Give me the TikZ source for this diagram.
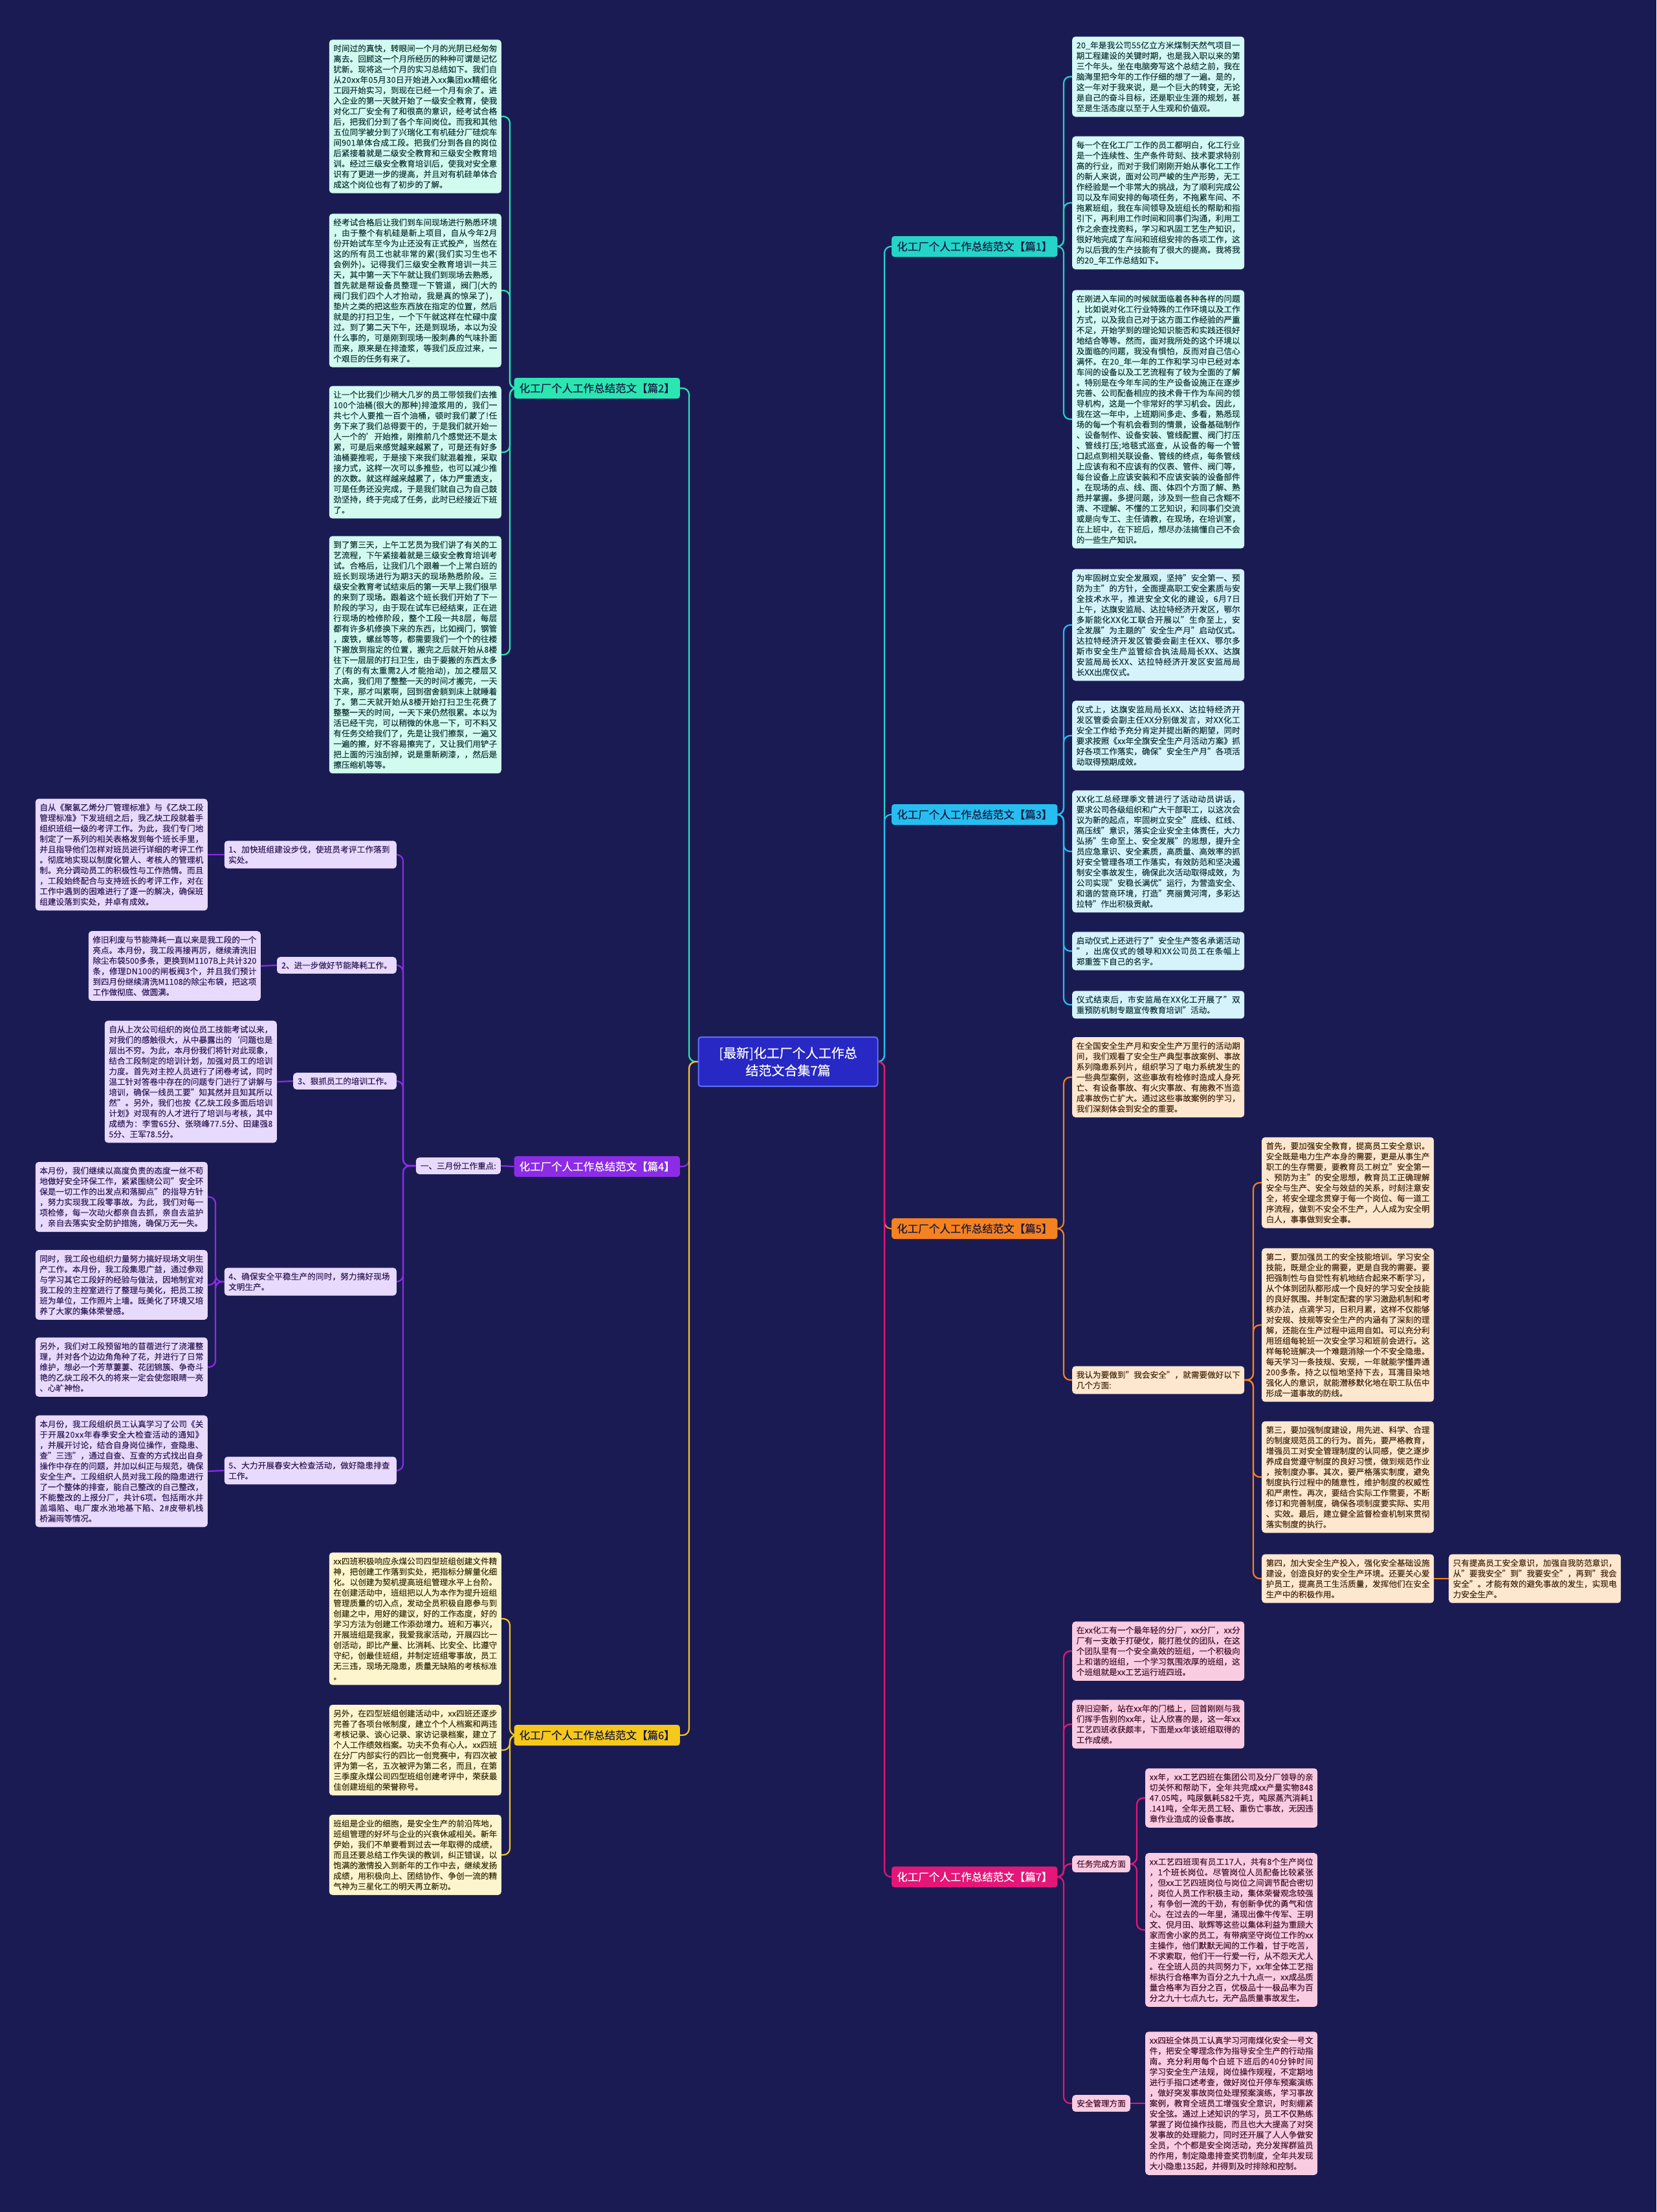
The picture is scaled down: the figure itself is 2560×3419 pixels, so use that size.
\documentclass[tikz,border=0pt]{standalone}
\usepackage{fontspec}
\setmainfont{Noto Sans CJK SC}[FakeBold=0.35]
\setlength{\parindent}{0pt}
\tolerance=9999
\emergencystretch=30pt
% character-wise line breaking (break anywhere, as in the reference)
\newXeTeXintercharclass\brkclass
\newcount\mycnt
\mycnt="3000
\loop \XeTeXcharclass\mycnt=\brkclass \advance\mycnt by 1 \ifnum\mycnt<"A000 \repeat
\mycnt="FF00
\loop \XeTeXcharclass\mycnt=\brkclass \advance\mycnt by 1 \ifnum\mycnt<"FFF0 \repeat
\mycnt=33
\loop \XeTeXcharclass\mycnt=\brkclass \advance\mycnt by 1 \ifnum\mycnt<127 \repeat
\XeTeXinterchartoks\brkclass\brkclass={\hskip 0pt plus 1pt\relax}
\XeTeXinterchartokenstate=1
\definecolor{bgc}{RGB}{27,27,84}
\definecolor{cc}{RGB}{40,40,196}
\definecolor{ccb}{RGB}{95,110,255}
\definecolor{c1}{RGB}{36,212,200}
\definecolor{c2}{RGB}{44,230,178}
\definecolor{c3}{RGB}{38,190,240}
\definecolor{c4}{RGB}{140,44,230}
\definecolor{c5}{RGB}{245,130,32}
\definecolor{c6}{RGB}{245,200,28}
\definecolor{c7}{RGB}{228,22,120}
\definecolor{f1}{RGB}{212,250,245}
\definecolor{f2}{RGB}{210,251,240}
\definecolor{f3}{RGB}{214,243,252}
\definecolor{f4}{RGB}{232,218,252}
\definecolor{f5}{RGB}{253,231,207}
\definecolor{f6}{RGB}{252,245,206}
\definecolor{f7}{RGB}{249,204,226}
\definecolor{t1}{RGB}{24,58,60}
\definecolor{t4}{RGB}{52,30,90}
\definecolor{t5}{RGB}{74,44,18}
\definecolor{t6}{RGB}{62,52,18}
\definecolor{t7}{RGB}{74,22,50}
\definecolor{tb}{RGB}{22,24,64}
\tikzset{
  every node/.style={font=\fontsize{12.6}{16.2}\selectfont},
  leafbox/.style={rectangle, rounded corners=5pt, text width=253pt, inner xsep=6.5pt, inner ysep=7.5pt, align=justify},
  labbox/.style={rectangle, rounded corners=5pt, inner xsep=7pt, inner ysep=7pt},
  brbox/.style={rectangle, rounded corners=4pt, inner xsep=8pt, minimum height=32pt, font=\fontsize{16.5}{20}\selectfont},
  lf1/.style={leafbox, fill=f1, text=t1},
  lf2/.style={leafbox, fill=f2, text=t1},
  lf3/.style={leafbox, fill=f3, text=t1},
  lf4/.style={leafbox, fill=f4, text=t4},
  lf5/.style={leafbox, fill=f5, text=t5},
  lf6/.style={leafbox, fill=f6, text=t6},
  lf7/.style={leafbox, fill=f7, text=t7},
  conn/.style={line width=2.2pt, rounded corners=10pt},
}
\begin{document}
\begin{tikzpicture}[x=1pt,y=-1pt]
\useasboundingbox (0,0) rectangle (2560,3419);
\fill[bgc] (0,0) rectangle (2560,3419);

% trunk coordinates
\coordinate (TCR) at (1367,0);
\coordinate (TCL) at (1065,0);
\coordinate (TR) at (1644,0);
\coordinate (TL) at (788,0);
\coordinate (T4) at (623,0);
\coordinate (T44) at (333,0);
\coordinate (T5) at (1937,0);
\coordinate (T7) at (1757,0);

% centre
\node[rectangle, rounded corners=4pt, fill=cc, draw=ccb, line width=2pt, text=white, minimum width=277pt, minimum height=76pt, align=center, font=\fontsize{20}{27}\selectfont] (c) at (1218,1641) {[最新]化工厂个人工作总\\结范文合集7篇};

% branches
\node[brbox, fill=c1, text=tb, anchor=west] (b1) at (1378,381) {化工厂个人工作总结范文【篇1】};
\node[brbox, fill=c3, text=tb, anchor=west] (b3) at (1378,1259) {化工厂个人工作总结范文【篇3】};
\node[brbox, fill=c5, text=tb, anchor=west] (b5) at (1378,1899) {化工厂个人工作总结范文【篇5】};
\node[brbox, fill=c7, text=white, anchor=west] (b7) at (1378,2901) {化工厂个人工作总结范文【篇7】};
\node[brbox, fill=c2, text=tb, anchor=east] (b2) at (1051,600) {化工厂个人工作总结范文【篇2】};
\node[brbox, fill=c4, text=white, anchor=east] (b4) at (1051,1803) {化工厂个人工作总结范文【篇4】};
\node[brbox, fill=c6, text=tb, anchor=east] (b6) at (1051,2682) {化工厂个人工作总结范文【篇6】};

% ---- 篇1 leaves
\node[lf1, anchor=west] (L1) at (1657,118.5) {20\_年是我公司55亿立方米煤制天然气项目一期工程建设的关键时期，也是我入职以来的第三个年头。坐在电脑旁写这个总结之前，我在脑海里把今年的工作仔细的想了一遍。是的，这一年对于我来说，是一个巨大的转变，无论是自己的奋斗目标，还是职业生涯的规划，甚至是生活态度以至于人生观和价值观。};
\node[lf1, anchor=west] (L2) at (1657,313.5) {每一个在化工厂工作的员工都明白，化工行业是一个连续性、生产条件苛刻、技术要求特别高的行业，而对于我们刚刚开始从事化工工作的新人来说，面对公司严峻的生产形势，无工作经验是一个非常大的挑战，为了顺利完成公司以及车间安排的每项任务，不拖累车间、不拖累班组，我在车间领导及班组长的帮助和指引下，再利用工作时间和同事们沟通，利用工作之余查找资料，学习和巩固工艺生产知识，很好地完成了车间和班组安排的各项工作，这为以后我的生产技能有了很大的提高。我将我的20\_年工作总结如下。};
\node[lf1, anchor=west] (L3) at (1657,648) {在刚进入车间的时候就面临着各种各样的问题，比如说对化工行业特殊的工作环境以及工作方式，以及我自己对于这方面工作经验的严重不足，开始学到的理论知识能否和实践还很好地结合等等。然而，面对我所处的这个环境以及面临的问题，我没有惧怕，反而对自己信心满怀。在20\_年一年的工作和学习中已经对本车间的设备以及工艺流程有了较为全面的了解。特别是在今年车间的生产设备设施正在逐步完善、公司配备相应的技术骨干作为车间的领导机构，这是一个非常好的学习机会。因此，我在这一年中，上班期间多走、多看，熟悉现场的每一个有机会看到的情景，设备基础制作、设备制作、设备安装、管线配置、阀门打压、管线打压;地毯式巡查，从设备的每一个管口起点到相关联设备、管线的终点，每条管线上应该有和不应该有的仪表、管件、阀门等，每台设备上应该安装和不应该安装的设备部件。在现场的点、线、面、体四个方面了解、熟悉并掌握。多提问题，涉及到一些自己含糊不清、不理解、不懂的工艺知识，和同事们交流或是向专工、主任请教，在现场，在培训室，在上班中，在下班后，想尽办法搞懂自己不会的一些生产知识。};

% ---- 篇3 leaves
\node[lf3, anchor=west] (L4) at (1657,966) {为牢固树立安全发展观，坚持"安全第一、预防为主"的方针，全面提高职工安全素质与安全技术水平，推进安全文化的建设，6月7日上午，达旗安监局、达拉特经济开发区，鄂尔多斯能化XX化工联合开展以"生命至上，安全发展"为主题的"安全生产月"启动仪式。达拉特经济开发区管委会副主任XX、鄂尔多斯市安全生产监管综合执法局局长XX、达旗安监局局长XX、达拉特经济开发区安监局局长XX出席仪式。};
\node[lf3, anchor=west] (L5) at (1657,1137) {仪式上，达旗安监局局长XX、达拉特经济开发区管委会副主任XX分别做发言，对XX化工安全工作给予充分肯定并提出新的期望，同时要求按照《xx年全旗安全生产月活动方案》抓好各项工作落实，确保"安全生产月"各项活动取得预期成效。};
\node[lf3, anchor=west] (L6) at (1657,1316) {XX化工总经理季文普进行了活动动员讲话，要求公司各级组织和广大干部职工，以这次会议为新的起点，牢固树立安全"底线、红线、高压线"意识，落实企业安全主体责任，大力弘扬"生命至上、安全发展"的思想，提升全员应急意识、安全素质，高质量、高效率的抓好安全管理各项工作落实，有效防范和坚决遏制安全事故发生，确保此次活动取得成效，为公司实现"安稳长满优"运行，为营造安全、和谐的营商环境，打造"亮丽黄河湾，多彩达拉特"作出积极贡献。};
\node[lf3, anchor=west] (L7) at (1657,1470) {启动仪式上还进行了"安全生产签名承诺活动"，出席仪式的领导和XX公司员工在条幅上郑重签下自己的名字。};
\node[lf3, anchor=west] (L8) at (1657,1553) {仪式结束后，市安监局在XX化工开展了"双重预防机制专题宣传教育培训"活动。};

% ---- 篇5
\node[lf5, anchor=west] (P1) at (1657,1665) {在全国安全生产月和安全生产万里行的活动期间，我们观看了安全生产典型事故案例、事故系列隐患系列片，组织学习了电力系统发生的一些典型案例，这些事故有检修时造成人身死亡、有设备事故、有火灾事故、有施救不当造成事故伤亡扩大。通过这些事故案例的学习，我们深刻体会到安全的重要。};
\node[lf5, anchor=west] (P2) at (1657,2133) {我认为要做到"我会安全"，就需要做好以下几个方面:};
\node[lf5, anchor=west] (C1) at (1950,1828) {首先，要加强安全教育，提高员工安全意识。安全既是电力生产本身的需要，更是从事生产职工的生存需要，要教育员工树立"安全第一、预防为主"的安全思想，教育员工正确理解安全与生产、安全与效益的关系，时刻注意安全，将安全理念贯穿于每一个岗位、每一道工序流程，做到不安全不生产，人人成为安全明白人，事事做到安全事。};
\node[lf5, anchor=west] (C2) at (1950,2048) {第二，要加强员工的安全技能培训。学习安全技能，既是企业的需要，更是自我的需要。要把强制性与自觉性有机地结合起来不断学习，从个体到团队都形成一个良好的学习安全技能的良好氛围。并制定配套的学习激励机制和考核办法，点滴学习，日积月累，这样不仅能够对安规、技规等安全生产的内涵有了深刻的理解，还能在生产过程中运用自如。可以充分利用班组每轮班一次安全学习和班前会进行。这样每轮班解决一个难题消除一个不安全隐患。每天学习一条技规、安规，一年就能学懂弄通200多条。持之以恒地坚持下去，耳濡目染地强化人的意识，就能潜移默化地在职工队伍中形成一道事故的防线。};
\node[lf5, anchor=west] (C3) at (1950,2283) {第三，要加强制度建设，用先进、科学、合理的制度规范员工的行为。首先，要严格教育，增强员工对安全管理制度的认同感，使之逐步养成自觉遵守制度的良好习惯，做到规范作业，按制度办事。其次，要严格落实制度，避免制度执行过程中的随意性，维护制度的权威性和严肃性。再次，要结合实际工作需要，不断修订和完善制度，确保各项制度要实际、实用、实效。最后，建立健全监督检查机制来贯彻落实制度的执行。};
\node[lf5, anchor=west] (C4) at (1950,2440) {第四，加大安全生产投入，强化安全基础设施建设，创造良好的安全生产环境。还要关心爱护员工，提高员工生活质量，发挥他们在安全生产中的积极作用。};
\node[lf5, anchor=west] (C5) at (2239,2440) {只有提高员工安全意识，加强自我防范意识，从"要我安全"到"我要安全"，再到"我会安全"。才能有效的避免事故的发生，实现电力安全生产。};

% ---- 篇7
\node[lf7, anchor=west] (Q1) at (1657,2552) {在xx化工有一个最年轻的分厂，xx分厂，xx分厂有一支敢于打硬仗，能打胜仗的团队，在这个团队里有一个安全高效的班组，一个积极向上和谐的班组，一个学习氛围浓厚的班组，这个班组就是xx工艺运行班四班。};
\node[lf7, anchor=west] (Q2) at (1657,2665) {辞旧迎新，站在xx年的门槛上，回首刚刚与我们挥手告别的xx年，让人欣喜的是，这一年xx工艺四班收获颇丰，下面是xx年该班组取得的工作成绩。};
\node[labbox, fill=f7, text=t7, anchor=west] (S1) at (1657,2881) {任务完成方面};
\node[labbox, fill=f7, text=t7, anchor=west] (S2) at (1657,3251) {安全管理方面};
\node[lf7, anchor=west] (R1) at (1770,2779) {xx年，xx工艺四班在集团公司及分厂领导的亲切关怀和帮助下，全年共完成xx产量实物84847.05吨，吨尿氨耗582千克，吨尿蒸汽消耗1.141吨，全年无员工轻、重伤亡事故，无因违章作业造成的设备事故。};
\node[lf7, anchor=west] (R2) at (1770,2983) {xx工艺四班现有员工17人，共有8个生产岗位，1个班长岗位。尽管岗位人员配备比较紧张，但xx工艺四班岗位与岗位之间调节配合密切，岗位人员工作积极主动，集体荣誉观念较强，有争创一流的干劲，有创新争优的勇气和信心。在过去的一年里，涌现出像牛传军、王明文、倪月田、耿辉等这些以集体利益为重顾大家而舍小家的员工，有带病坚守岗位工作的xx主操作，他们默默无闻的工作着，甘于吃苦，不求索取，他们干一行爱一行，从不怨天尤人。在全班人员的共同努力下，xx年全体工艺指标执行合格率为百分之九十九点一，xx成品质量合格率为百分之百，优极品十一极品率为百分之九十七点九七，无产品质量事故发生。};
\node[lf7, anchor=west] (R3) at (1770,3251) {xx四班全体员工认真学习河南煤化安全一号文件，把安全零理念作为指导安全生产的行动指南。充分利用每个白班下班后的40分钟时间学习安全生产法规，岗位操作规程，不定期地进行手指口述考查，做好岗位开停车预案演练，做好突发事故岗位处理预案演练，学习事故案例，教育全班员工增强安全意识，时刻绷紧安全弦。通过上述知识的学习，员工不仅熟练掌握了岗位操作技能，而且也大大提高了对突发事故的处理能力，同时还开展了人人争做安全员，个个都是安全岗活动，充分发挥群监员的作用，制定隐患排查奖罚制度，全年共发现大小隐患135起，并得到及时排除和控制。};

% ---- 篇2 leaves
\node[lf2, anchor=east] (B1) at (775,180) {时间过的真快，转眼间一个月的光阴已经匆匆离去。回顾这一个月所经历的种种可谓是记忆犹新。现将这一个月的实习总结如下。我们自从20xx年05月30日开始进入xx集团xx精细化工园开始实习，到现在已经一个月有余了。进入企业的第一天就开始了一级安全教育，使我对化工厂安全有了和很高的意识，经考试合格后，把我们分到了各个车间岗位。而我和其他五位同学被分到了兴瑞化工有机硅分厂硅烷车间901单体合成工段。把我们分到各自的岗位后紧接着就是二级安全教育和三级安全教育培训。经过三级安全教育培训后，使我对安全意识有了更进一步的提高，并且对有机硅单体合成这个岗位也有了初步的了解。};
\node[lf2, anchor=east] (B2) at (775,449) {经考试合格后让我们到车间现场进行熟悉环境，由于整个有机硅是新上项目，自从今年2月份开始试车至今为止还没有正式投产，当然在这的所有员工也就非常的累(我们实习生也不会例外)。记得我们三级安全教育培训一共三天，其中第一天下午就让我们到现场去熟悉，首先就是帮设备员整理一下管道，阀门(大的阀门我们四个人才抬动，我是真的惊呆了)，垫片之类的把这些东西放在指定的位置，然后就是的打扫卫生，一个下午就这样在忙碌中度过。到了第二天下午，还是到现场，本以为没什么事的，可是刚到现场一股刺鼻的气味扑面而来，原来是在排渣浆，等我们反应过来，一个艰巨的任务有来了。};
\node[lf2, anchor=east] (B3) at (775,699) {让一个比我们少稍大几岁的员工带领我们去推100个油桶(很大的那种)排渣浆用的，我们一共七个人要推一百个油桶，顿时我们蒙了!任务下来了我们总得要干的，于是我们就开始一人一个的'开始推，刚推前几个感觉还不是太累，可是后来感觉越来越累了，可是还有好多油桶要推呢，于是接下来我们就混着推，采取接力式，这样一次可以多推些，也可以减少推的次数。就这样越来越累了，体力严重透支，可是任务还没完成，于是我们就自己为自己鼓劲坚持，终于完成了任务，此时已经接近下班了。};
\node[lf2, anchor=east] (B4) at (775,1012) {到了第三天，上午工艺员为我们讲了有关的工艺流程，下午紧接着就是三级安全教育培训考试。合格后，让我们几个跟着一个上常白班的班长到现场进行为期3天的现场熟悉阶段。三级安全教育考试结束后的第一天早上我们很早的来到了现场。跟着这个班长我们开始了下一阶段的学习，由于现在试车已经结束，正在进行现场的检修阶段，整个工段一共8层，每层都有许多机修换下来的东西，比如阀门，钢管，废铁，螺丝等等，都需要我们一个个的往楼下搬放到指定的位置，搬完之后就开始从8楼往下一层层的打扫卫生，由于要搬的东西太多了(有的有太重需2人才能抬动)，加之楼层又太高，我们用了整整一天的时间才搬完，一天下来，那才叫累啊，回到宿舍躺到床上就睡着了。第二天就开始从8楼开始打扫卫生花费了整整一天的时间，一天下来仍然很累。本以为活已经干完，可以稍微的休息一下，可不料又有任务交给我们了，先是让我们擦泵，一遍又一遍的擦，好不容易擦完了，又让我们用铲子把上面的污浊刮掉，说是重新刷漆，，然后是擦压缩机等等。};

% ---- 篇4
\node[labbox, fill=f4, text=t4, anchor=east] (H) at (774,1802) {一、三月份工作重点:};
\node[lf4, anchor=east, align=left] (I1) at (613,1321) {1、加快班组建设步伐，使班员考评工作落到实处。};
\node[labbox, fill=f4, text=t4, anchor=east] (I2) at (613,1492) {2、进一步做好节能降耗工作。};
\node[labbox, fill=f4, text=t4, anchor=east] (I3) at (613,1671) {3、狠抓员工的培训工作。};
\node[lf4, anchor=east, align=left] (I4) at (613,1981) {4、确保安全平稳生产的同时，努力搞好现场文明生产。};
\node[lf4, anchor=east, align=left] (I5) at (613,2273) {5、大力开展春安大检查活动，做好隐患排查工作。};
\node[lf4, anchor=east] (E1) at (321,1321) {自从《聚氯乙烯分厂管理标准》与《乙炔工段管理标准》下发班组之后，我乙炔工段就着手组织班组一级的考评工作。为此，我们专门地制定了一系列的相关表格发到每个班长手里，并且指导他们怎样对班员进行详细的考评工作。彻底地实现以制度化管人、考核人的管理机制。充分调动员工的积极性与工作热情。而且，工段始终配合与支持班长的考评工作，对在工作中遇到的困难进行了逐一的解决，确保班组建设落到实处，并卓有成效。};
\node[lf4, anchor=east] (E2) at (403,1493) {修旧利废与节能降耗一直以来是我工段的一个亮点。本月份，我工段再接再厉，继续清洗旧除尘布袋500多条，更换到M1107B上共计320条，修理DN100的闸板阀3个，并且我们预计到四月份继续清洗M1108的除尘布袋，把这项工作做彻底、做圆满。};
\node[lf4, anchor=east] (E3) at (428,1672) {自从上次公司组织的岗位员工技能考试以来，对我们的感触很大，从中暴露出的`问题也是层出不穷。为此，本月份我们将针对此现象，结合工段制定的培训计划，加强对员工的培训力度。首先对主控人员进行了闭卷考试，同时温工针对答卷中存在的问题专门进行了讲解与培训，确保一线员工要"知其然并且知其所以然"。另外，我们也按《乙炔工段多面后培训计划》对现有的人才进行了培训与考核，其中成绩为：李雪65分、张晓峰77.5分、田建强85分、王军78.5分。};
\node[lf4, anchor=east] (E4a) at (321,1850) {本月份，我们继续以高度负责的态度一丝不苟地做好安全环保工作，紧紧围绕公司"安全环保是一切工作的出发点和落脚点"的指导方针，努力实现我工段零事故。为此，我们对每一项检修，每一次动火都亲自去抓，亲自去监护，亲自去落实安全防护措施，确保万无一失。};
\node[lf4, anchor=east] (E4b) at (321,1986) {同时，我工段也组织力量努力搞好现场文明生产工作。本月份，我工段集思广益，通过参观与学习其它工段好的经验与做法，因地制宜对我工段的主控室进行了整理与美化，把员工按班为单位，工作照片上墙。既美化了环境又培养了大家的集体荣誉感。};
\node[lf4, anchor=east] (E4c) at (321,2113) {另外，我们对工段预留地的苜蓿进行了浇灌整理，并对各个边边角角种了花，并进行了日常维护，想必一个芳草萋萋、花团锦簇、争奇斗艳的乙炔工段不久的将来一定会使您眼睛一亮、心旷神怡。};
\node[lf4, anchor=east] (E5) at (321,2274) {本月份，我工段组织员工认真学习了公司《关于开展20xx年春季安全大检查活动的通知》，并展开讨论，结合自身岗位操作，查隐患、查"三违"，通过自查、互查的方式找出自身操作中存在的问题，并加以纠正与规范，确保安全生产。工段组织人员对我工段的隐患进行了一个整体的排查，能自己整改的自己整改，不能整改的上报分厂，共计6项。包括雨水井盖塌陷、电厂废水池地基下陷、2\#皮带机栈桥漏雨等情况。};

% ---- 篇6 leaves
\node[lf6, anchor=east] (D1) at (775,2502) {xx四班积极响应永煤公司四型班组创建文件精神，把创建工作落到实处，把指标分解量化细化。以创建为契机提高班组管理水平上台阶。在创建活动中，班组把以人为本作为提升班组管理质量的切入点，发动全员积极自愿参与到创建之中，用好的建议，好的工作态度，好的学习方法为创建工作添劲增力。班和万事兴，开展班组是我家，我爱我家活动，开展四比一创活动，即比产量、比消耗、比安全、比遵守守纪，创最佳班组，并制定班组零事故，员工无三违，现场无隐患，质量无缺陷的考核标准。};
\node[lf6, anchor=east] (D2) at (775,2705) {另外，在四型班组创建活动中，xx四班还逐步完善了各项台帐制度，建立个个人档案和两违考核记录、谈心记录、家访记录档案，建立了个人工作绩效档案。功夫不负有心人。xx四班在分厂内部实行的四比一创竞赛中，有四次被评为第一名，五次被评为第二名，而且，在第三季度永煤公司四型班组创建考评中，荣获最佳创建班组的荣誉称号。};
\node[lf6, anchor=east] (D3) at (775,2867) {班组是企业的细胞，是安全生产的前沿阵地，班组管理的好坏与企业的兴衰休戚相关。新年伊始，我们不单要看到过去一年取得的成绩，而且还要总结工作失误的教训，纠正错误，以饱满的激情投入到新年的工作中去，继续发扬成绩，用积极向上、团结协作、争创一流的精气神为三星化工的明天再立新功。};

% ---- connectors: centre to branches
\draw[conn, c1] (c.east) -- (c.east -| TCR) |- (b1.west);
\draw[conn, c3] (c.east) -- (c.east -| TCR) |- (b3.west);
\draw[conn, c5] (c.east) -- (c.east -| TCR) |- (b5.west);
\draw[conn, c7] (c.east) -- (c.east -| TCR) |- (b7.west);
\draw[conn, c2] (c.west) -- (c.west -| TCL) |- (b2.east);
\draw[conn, c4] (c.west) -- (c.west -| TCL) |- (b4.east);
\draw[conn, c6] (c.west) -- (c.west -| TCL) |- (b6.east);

% 篇1
\foreach \n in {L1,L2,L3} \draw[conn, c1] (b1.east) -- (b1.east -| TR) |- (\n.west);
% 篇3
\foreach \n in {L4,L5,L6,L7,L8} \draw[conn, c3] (b3.east) -- (b3.east -| TR) |- (\n.west);
% 篇5
\foreach \n in {P1,P2} \draw[conn, c5] (b5.east) -- (b5.east -| TR) |- (\n.west);
\foreach \n in {C1,C2,C3,C4} \draw[conn, c5] (P2.east) -- (P2.east -| T5) |- (\n.west);
\draw[conn, c5] (C4.east) -- (C5.west);
% 篇7
\foreach \n in {Q1,Q2,S1,S2} \draw[conn, c7] (b7.east) -- (b7.east -| TR) |- (\n.west);
\foreach \n in {R1,R2} \draw[conn, c7] (S1.east) -- (S1.east -| T7) |- (\n.west);
\draw[conn, c7] (S2.east) -- (R3.west);
% 篇2
\foreach \n in {B1,B2,B3,B4} \draw[conn, c2] (b2.west) -- (b2.west -| TL) |- (\n.east);
% 篇4
\draw[conn, c4] (b4.west) -- (H.east);
\foreach \n in {I1,I2,I3,I4,I5} \draw[conn, c4] (H.west) -- (H.west -| T4) |- (\n.east);
\draw[conn, c4] (I1.west) -- (E1.east);
\draw[conn, c4] (I2.west) -- (E2.east);
\draw[conn, c4] (I3.west) -- (E3.east);
\foreach \n in {E4a,E4b,E4c} \draw[conn, c4] (I4.west) -- (I4.west -| T44) |- (\n.east);
\draw[conn, c4] (I5.west) -- (E5.east);
% 篇6
\foreach \n in {D1,D2,D3} \draw[conn, c6] (b6.west) -- (b6.west -| TL) |- (\n.east);
\end{tikzpicture}
\end{document}
